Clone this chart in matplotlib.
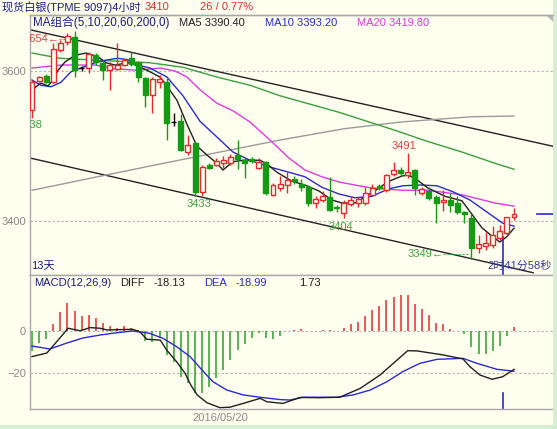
import numpy as np
import matplotlib
matplotlib.use('Agg')
import matplotlib.pyplot as plt
from matplotlib.transforms import offset_copy
from matplotlib.patches import Rectangle, Polygon

# candles (4 hour bars)
opens = [3548, 3587, 3593, 3586, 3628, 3639, 3646, 3604, 3604, 3621,
         3611, 3601, 3603, 3608, 3618, 3612, 3591, 3568, 3585, 3586,
         3532, 3533, 3492, 3504, 3439, 3475, 3475, 3477, 3477, 3488,
         3481, 3483, 3471, 3479, 3435, 3444, 3448, 3456, 3450, 3445,
         3424, 3428, 3432, 3419, 3411, 3423, 3424, 3424, 3435, 3447,
         3441, 3463, 3468, 3461, 3468, 3437, 3440, 3432, 3426, 3428,
         3424, 3412, 3404, 3364, 3367, 3368, 3377, 3384, 3406]
highs = [3588, 3594, 3596, 3637, 3641, 3651, 3654, 3607, 3626, 3624,
         3615, 3612, 3637, 3617, 3626, 3614, 3592, 3592, 3595, 3591,
         3544, 3543, 3515, 3506, 3475, 3477, 3484, 3487, 3490, 3508,
         3484, 3485, 3484, 3480, 3451, 3460, 3465, 3460, 3456, 3448,
         3433, 3440, 3459, 3422, 3428, 3433, 3432, 3445, 3449, 3449,
         3463, 3479, 3472, 3491, 3470, 3445, 3446, 3435, 3441, 3437,
         3433, 3413, 3410, 3381, 3386, 3393, 3395, 3406, 3418]
lows = [3538, 3585, 3584, 3584, 3626, 3635, 3592, 3600, 3597, 3608,
        3588, 3575, 3601, 3607, 3607, 3585, 3552, 3544, 3577, 3508,
        3527, 3493, 3488, 3434, 3433, 3470, 3473, 3471, 3475, 3470,
        3457, 3478, 3469, 3435, 3433, 3440, 3438, 3450, 3440, 3420,
        3418, 3425, 3413, 3412, 3404, 3420, 3419, 3422, 3433, 3442,
        3439, 3460, 3460, 3458, 3435, 3435, 3428, 3397, 3413, 3412,
        3410, 3397, 3349, 3357, 3361, 3364, 3375, 3382, 3402]
closes = [3586, 3592, 3586, 3630, 3637, 3647, 3601, 3604, 3623, 3612,
          3601, 3608, 3608, 3615, 3610, 3592, 3568, 3589, 3590, 3531,
          3532, 3495, 3502, 3439, 3472, 3471, 3480, 3481, 3486, 3483,
          3477, 3480, 3479, 3437, 3448, 3450, 3455, 3453, 3445, 3424,
          3430, 3434, 3415, 3417, 3424, 3428, 3429, 3437, 3444, 3444,
          3461, 3468, 3464, 3465, 3444, 3443, 3431, 3424, 3428, 3421,
          3412, 3410, 3364, 3369, 3371, 3381, 3387, 3406, 3410]

# moving average lines (bar index, price)
ma5_x = [0, 0.56, 1.27, 2.26, 2.96, 3.67, 4.65, 6.06, 7.62, 9.31, 10.44, 11.71,
         13.54, 14.95, 16.64, 18.05, 19.04, 20.45, 21.86, 23.27, 24.68, 26.09,
         26.94, 28.35, 29.76, 32.16, 33.15, 34.56, 36.67, 38.5, 40.48, 42.31,
         43.72, 45.56, 46.97, 48.94, 50.35, 52.19, 53.03, 54.02, 55.85, 58.25,
         60.65, 62.06, 63.47, 64.88, 66, 66.98, 68]
ma5_y = [3573, 3579, 3584, 3580, 3588, 3601, 3612, 3621, 3624, 3619, 3611, 3608,
         3611, 3607, 3599, 3592, 3580, 3561, 3529, 3500, 3488, 3477,
         3468, 3479, 3481, 3481, 3476, 3465, 3453, 3448, 3440, 3428,
         3424, 3424, 3432, 3444, 3453, 3460, 3461, 3457, 3444, 3433,
         3427, 3409, 3391, 3380, 3372, 3379, 3390.4]
ma10_x = [0, 1.27, 2.68, 4.09, 5.5, 6.91, 8.89, 10.72, 12.13, 13.54, 14.95, 16.64,
          19.04, 21.3, 23.7, 26.09, 28.35, 30.75, 33.57, 36.25, 38.5, 40.9, 43.3,
          45.56, 47.95, 50.35, 52.33, 54.72, 57.12, 59.38, 61.78, 64.17, 66.43, 68]
ma10_y = [3588, 3581, 3579, 3585, 3599, 3604, 3611, 3615, 3617, 3615, 3608, 3604,
          3592, 3567, 3533, 3512, 3492, 3481, 3472, 3465, 3459, 3445, 3436,
          3431, 3433, 3443, 3447, 3448, 3447, 3439, 3428, 3412, 3397, 3393.2]
ma20_x = [0, 4.09, 8.89, 11.71, 14.95, 18.05, 20.17, 21.86, 23.7, 26.09, 28.35,
          30.75, 33.57, 36.25, 38.5, 40.9, 43.3, 46.12, 47.95, 52.19, 55.85,
          60.65, 65.3, 68]
ma20_y = [3604, 3608, 3608, 3603, 3601, 3604, 3600, 3592, 3575, 3557, 3547,
          3532, 3508, 3484, 3468, 3459, 3452, 3447, 3444, 3441, 3441,
          3435, 3424, 3419.8]
ma60_x = [0, 3.95, 14.25, 16.64, 21.3, 26.09, 30.75, 34.98, 43.3, 51.2, 55.85,
          60.65, 65.3, 68]
ma60_y = [3624, 3617, 3612, 3611, 3605, 3592, 3581, 3567, 3545, 3521, 3506,
          3492, 3477, 3469]
ma200_x = [0, 17, 35, 44, 52, 62, 68]
ma200_y = [3441, 3474, 3508, 3523, 3532, 3539, 3540]

# drawn channel lines
upper_x = [-0.28, 73.8]
upper_y = [3655, 3499]
lower_x = [-0.28, 70.7]
lower_y = [3484, 3331]

# MACD
macd_hist = [-9.5, -5.7, -3.8, 3.1, 8.8, 13.0, 9.6, 7.1, 7.6, 6.0,
             3.6, 2.5, 1.6, 2.4, 1.6, 0.3, -4.6, -5.0, -3.5, -11.3,
             -14.5, -21.6, -24.7, -29.1, -29.4, -26.3, -22.4, -18.4, -13.7, -9.0,
             -6.1, -3.5, -0.8, -3.5, -3.9, -2.4, 0.1, 0.5, 0.9, 0.1,
             0.1, 0.5, 0.4, 0.2, 1.3, 3.2, 4.4, 7.0, 9.8, 11.8,
             14.5, 16.2, 17.0, 17.0, 12.9, 10.2, 7.4, 3.9, 3.1, 1.1,
             0.2, -1.4, -7.4, -10.9, -10.9, -9.3, -7.1, -2.4, 1.73]
diff_x = [0, 2.1, 3.5, 5.1, 6.8, 8.2, 9.6, 10.6, 14.2, 15.2, 16.2, 18.1, 19.0,
          20.4, 21.6, 22.4, 23.3, 24.7, 26.5, 27.9, 29.8, 32.2, 33.1, 35.4, 37.8,
          40.6, 43.4, 46.3, 49.1, 53, 54.3, 58, 60.8, 61.8, 63.2, 64.9, 66.4, 68]
diff_y = [-12.1, -10.4, -5.0, 1.3, 0.1, 1.6, 1.3, 0.5, 0.8, -0.3, -3.9, -4.3, -9.0,
          -14.5, -20.0, -25.5, -30.2, -33.9, -36.2, -36.0, -34.2, -31.8, -33.4, -34.2, -31.4,
          -31.5, -31.3, -27.1, -20.8, -9.3, -9.4, -11.3, -13.2, -16.9, -20.8, -22.8, -21.6, -18.13]
dea_x = [0, 2.5, 4.9, 7.2, 9.6, 12, 14.2, 16.6, 18.5, 20.4, 22.3, 24.2, 25.5,
         27.5, 29.8, 32.2, 35, 36.4, 38.2, 43, 45.3, 47.7, 50.1, 52.3, 54.7,
         57.1, 60.8, 62.8, 65.6, 68]
dea_y = [-7.1, -8.5, -5.7, -3.3, -1.9, -0.8, 0.0, -1.1, -3.5, -7.4, -12.1, -19.2, -23.9,
         -27.9, -30.2, -31.3, -32.4, -32.6, -31.3, -31.3, -30.2, -27.9, -23.9, -19.2, -15.3,
         -13.4, -12.9, -15.3, -18.1, -18.99]

last_price = 3410
cursor_x = 66.5

BG = '#FFFFF0'
RED = '#E8282C'
GREEN = '#169A16'
NAVY = '#1C1C86'
GRAY = '#8A8A8A'
FONT = ['Liberation Sans', 'Noto Sans CJK SC', 'DejaVu Sans']
plt.rcParams['font.family'] = FONT

W, H = 557, 429
fig = plt.figure(figsize=(W / 100, H / 100), dpi=100, facecolor=BG)


def fpos(x, y):
    return x / W, 1 - y / H


ax = fig.add_axes([30 / W, 1 - 275 / H, 523 / W, 260 / H], facecolor=BG)
ax2 = fig.add_axes([30 / W, 1 - 409 / H, 523 / W, 134 / H], facecolor=BG)

xl = (-0.28, 73.5)
for a in (ax, ax2):
    a.set_xlim(*xl)
    a.set_xticks([])
    for s in ('top', 'bottom', 'left'):
        a.spines[s].set_color('#A8A8A8')
        a.spines[s].set_linewidth(1)
    a.spines['right'].set_visible(False)
    a.tick_params(axis='y', length=0, pad=3, labelcolor=GRAY, labelsize=8)

ax.set_ylim(3328, 3674.7)
ax.set_yticks([3600, 3400])
ax2.set_ylim(-36.84, 26.45)
ax2.set_yticks([0, -20])
for v in (3600, 3400):
    ax.axhline(v, color='#B4B4B4', lw=0.8, ls=(0, (2, 2)), zorder=0)
for v in (0, -20):
    ax2.axhline(v, color='#B4B4B4', lw=0.8, ls=(0, (2, 2)), zorder=0)

# channel and MAs
ax.plot(upper_x, upper_y, color='#222222', lw=1, zorder=2)
ax.plot(lower_x, lower_y, color='#222222', lw=1, zorder=2)
ax.plot(ma200_x, ma200_y, color='#9A9A9A', lw=1, zorder=2)
ax.plot(ma60_x, ma60_y, color='#3C9E3C', lw=1, zorder=2)
ax.plot(ma20_x, ma20_y, color='#E038E0', lw=1, zorder=2)
ax.plot(ma10_x, ma10_y, color='#2A2AD0', lw=1, zorder=2)
ax.plot(ma5_x, ma5_y, color='#202020', lw=1, zorder=2)

# candles
o = np.array(opens, float)
h = np.array(highs, float)
l = np.array(lows, float)
c = np.array(closes, float)
idx = np.arange(len(o))
cols = np.where(c > o, RED, np.where(c < o, GREEN, '#000000'))
ax.vlines(idx, l, h, colors=cols, lw=1, zorder=3)
body_h = np.maximum(np.abs(c - o), 0.4)
face = np.where(c > o, BG, cols)
ax.bar(idx, body_h, bottom=np.minimum(o, c), width=0.7, color=face,
       edgecolor=cols, linewidth=1, zorder=4)

# high / low marks
def mark(i, price, text, color, dx, dy, ha='center'):
    tr = offset_copy(ax.transData, fig=fig, x=dx, y=dy, units='dots')
    ax.text(i, price, text, transform=tr, color=color, fontsize=8,
            ha=ha, va='center', clip_on=True, zorder=6)

mark(6, highs[6], '3654←--', '#E04040', -8, -8.5, ha='right')
mark(0, lows[0], '3538', '#3EA23E', -2, -7.5)
mark(24, lows[24], '3433', '#3EA23E', -3, -8)
mark(44, lows[44], '3404', '#3EA23E', -3, -9)
mark(53, highs[53], '3491', '#E04040', -4, 7)
mark(62, lows[62], '3349←-------', '#3EA23E', -2, 5, ha='right')

ax.plot([71.2, 73.5], [last_price, last_price], color='#2A2AD0', lw=1.2,
        clip_on=False)
ax.axvline(cursor_x, ymin=0, ymax=0.146, color='#2A2AD0', lw=1.2)
ax2.axvline(cursor_x, ymin=0, ymax=0.12, color='#2A2AD0', lw=1.2)

# MACD panel
hcols = [RED if v > 0 else '#2AA02A' for v in macd_hist]
ax2.vlines(idx, 0, macd_hist, colors=hcols, lw=1.1, zorder=2)
ax2.plot(dea_x, dea_y, color='#2A2AD0', lw=1, zorder=3)
ax2.plot(diff_x, diff_y, color='#202020', lw=1, zorder=3)

# texts
def ftext(x, y, s, color, size=8, ha='left'):
    fig.text(*fpos(x, y), s, color=color, fontsize=size, ha=ha, va='center')

ftext(2, 7, '现货白银(TPME 9097)4小时', NAVY)
ftext(145, 7, '3410', RED)
ftext(200, 7, '26 / 0.77%', RED)
ftext(33, 23, 'MA组合(5,10,20,60,200,0)', NAVY, size=8.4)
ftext(179, 23, 'MA5 3390.40', '#202020')
ftext(265, 23, 'MA10 3393.20', '#2A2AD0')
ftext(357, 23, 'MA20 3419.80', '#E038E0')
ftext(31, 266, '13天', NAVY)
ftext(487, 266, '2时41分58秒', '#3A3A9A')
ftext(34, 283, 'MACD(12,26,9)', NAVY)
ftext(120, 283, 'DIFF', '#202020')
ftext(153, 283, '-18.13', '#202020')
ftext(204, 283, 'DEA', '#2A2AD0')
ftext(236, 283, '-18.99', '#2A2AD0')
ftext(299, 283, '1.73', '#202020')
ftext(220, 418, '2016/05/20', GRAY, ha='center')

# frame bits
fig.add_artist(Polygon([fpos(546, 15), fpos(557, 15), fpos(557, 26)],
                       closed=True, transform=fig.transFigure,
                       facecolor='#B8B8B8', edgecolor='none'))
fig.add_artist(Rectangle(fpos(553, 429), 4 / W, 1, transform=fig.transFigure,
                         facecolor='#D6EED6', edgecolor='none'))
fig.add_artist(Rectangle((0, 0), 1, 4 / H, transform=fig.transFigure,
                         facecolor='#D6EED6', edgecolor='none'))
fig.add_artist(plt.Line2D([30 / W, 553 / W], [1 - 15 / H] * 2,
                          transform=fig.transFigure, color='#A8A8A8', lw=1))

fig.savefig('out.png', dpi=100, facecolor=BG)
